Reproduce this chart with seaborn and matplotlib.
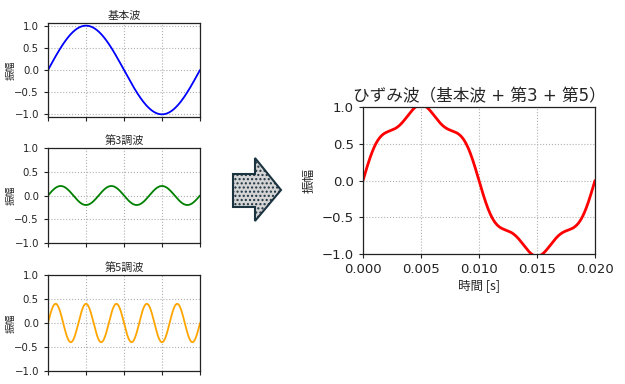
import matplotlib
matplotlib.use('Agg')
import matplotlib.pyplot as plt
from matplotlib.patches import Polygon
import numpy as np
import pandas as pd
import seaborn as sns

# ---- data ----
FUNDAMENTAL_HZ = 50
T_START, T_END = 0.0, 0.02
HARMONIC_ORDERS = [1, 3, 5]
HARMONIC_AMPS = [1.0, 0.2, 0.4]          # amplitudes of the three left panels
DISTORTED_AMPS = [1.0, 0.07, 0.1]        # amplitudes
HARMONIC_TITLES = ['基本波', '第3調波', '第5調波']
HARMONIC_COLORS = ['blue', 'green', 'orange']
X_TICKS = [0.000, 0.005, 0.010, 0.015, 0.020]
Y_TICKS = [-1.0, -0.5, 0.0, 0.5, 1.0]
MAIN_TITLE = 'ひずみ波（基本波 + 第3 + 第5）'

W, H = 625, 384

sns.set_style('ticks')
plt.rcParams['font.family'] = ['Noto Sans CJK JP', 'DejaVu Sans']
plt.rcParams['hatch.color'] = 'white'

t = np.linspace(T_START, T_END, 1000)


def harmonic(order, amp):
    return amp * np.sin(2 * np.pi * FUNDAMENTAL_HZ * order * t)


waves = {o: harmonic(o, a) for o, a in zip(HARMONIC_ORDERS, HARMONIC_AMPS)}
distorted = sum(harmonic(o, a) for o, a in zip(HARMONIC_ORDERS, DISTORTED_AMPS))


def px_axes(fig, left, top, right, bottom):
    return fig.add_axes([left / W, 1 - bottom / H, (right - left) / W, (bottom - top) / H])


def style_axes(ax, fs, xlabels):
    ax.grid(True, color='#b0b0b0', linestyle=':', linewidth=0.8)
    for s in ax.spines.values():
        s.set_color('#222222')
        s.set_linewidth(0.9)
    ax.set_xticks(X_TICKS)
    ax.set_yticks(Y_TICKS)
    ax.set_xlim(T_START, T_END)
    ax.set_xticklabels([f'{v:.3f}' for v in X_TICKS] if xlabels else [])
    ax.set_yticklabels([f'{v:.1f}'.replace('-', '\u2212') for v in Y_TICKS])
    ax.tick_params(labelsize=fs, length=3, width=0.8, colors='#222222')
    for lbl in ax.get_xticklabels() + ax.get_yticklabels():
        lbl.set_family('DejaVu Sans')


fig = plt.figure(figsize=(W / 100, H / 100), dpi=100)

boxes = [(48, 23, 200, 117), (48, 148, 200, 243), (48, 275, 200, 371)]
ylims = [(-1.06, 1.06), (-1.0, 1.0), (-1.0, 1.0)]
for (l, tp, r, b), order, title, color, yl in zip(boxes, HARMONIC_ORDERS, HARMONIC_TITLES,
                                                 HARMONIC_COLORS, ylims):
    ax = px_axes(fig, l, tp, r, b)
    df = pd.DataFrame({'t': t, 'y': waves[order]})
    sns.lineplot(data=df, x='t', y='y', ax=ax, color=color, linewidth=1.3)
    style_axes(ax, 7.3, xlabels=False)
    ax.set_ylim(*yl)
    ax.set_xlabel('')
    ax.set_ylabel('振幅', fontsize=7)
    ax.yaxis.set_label_coords(-0.215, 0.5)
    ax.set_title(title, fontsize=8, pad=3)

# main distorted wave
ax = px_axes(fig, 363, 107, 595, 254)
df = pd.DataFrame({'t': t, 'y': distorted})
sns.lineplot(data=df, x='t', y='y', ax=ax, color='red', linewidth=2)
style_axes(ax, 9.5, xlabels=True)
ax.set_ylim(-1.0, 1.0)
ax.set_xlabel('時間 [s]', fontsize=9, labelpad=2)
ax.set_ylabel('振幅', fontsize=9)
ax.yaxis.set_label_coords(-0.205, 0.5)
ax.set_title(MAIN_TITLE, fontsize=12, pad=4, family=['DejaVu Sans', 'Noto Sans CJK JP'])

# block arrow between the panels
arrow_px = [(233, 174), (255, 174), (255, 158), (281, 190), (255, 221), (255, 207), (233, 207)]
arrow = Polygon([(x / W, 1 - y / H) for x, y in arrow_px], closed=True,
                transform=fig.transFigure, facecolor='#d4d4d4', edgecolor='#1c3340',
                linewidth=1.5, hatch='....')
fig.patches.append(arrow)

fig.savefig('out.png', dpi=100)
